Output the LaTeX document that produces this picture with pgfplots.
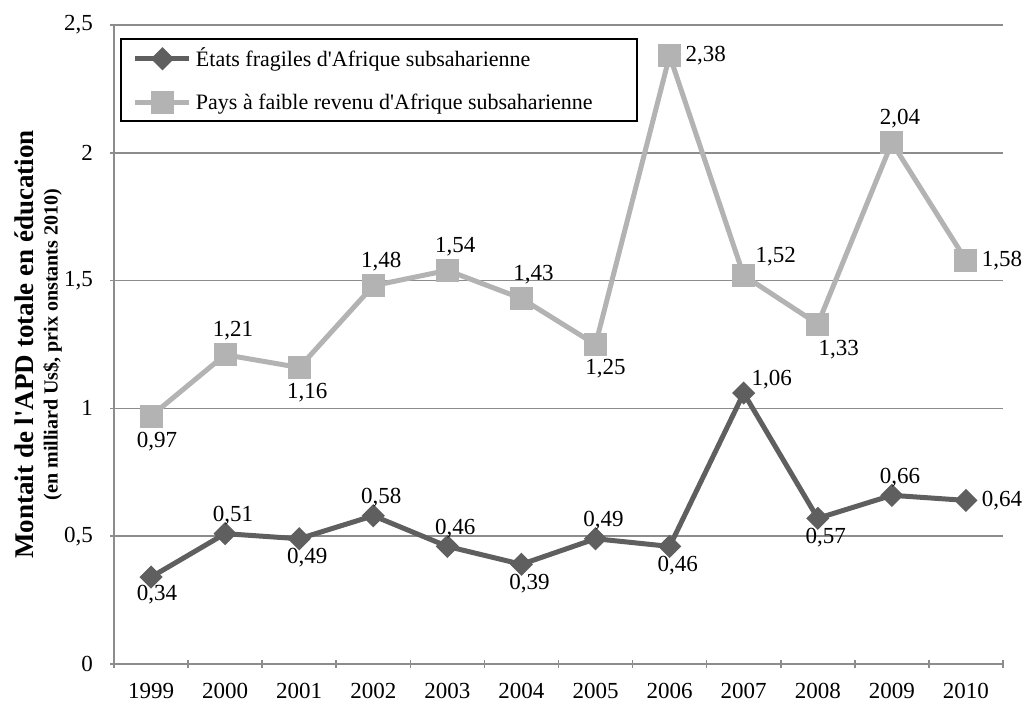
\documentclass[border=0pt]{standalone}
\usepackage{fontspec}
\setmainfont{Liberation Serif}
\usepackage{pgfplots}
\usepackage{pgfplotstable}
\pgfplotsset{compat=1.18}

\definecolor{fragile}{HTML}{5F5F5F}
\definecolor{lowinc}{HTML}{B3B3B3}
\definecolor{gridgray}{HTML}{8C8C8C}
\newcommand\lblfont{\fontsize{11.5}{13.8}\selectfont}
\newcommand\q{\textquotesingle}

% x = index of year (1999 = 0), dx/dy = label offset in pt
\pgfplotstableread{
x y dx dy
0 0.34 3 -9
1 0.51 4 9
2 0.49 4 -9.5
3 0.58 4 9
4 0.46 4 9
5 0.39 4 -9.5
6 0.49 4 9
7 0.46 4 -9.5
8 1.06 14 6.5
9 0.57 4 -9.5
10 0.66 4 9
11 0.64 18 0
}\fragiles

\pgfplotstableread{
x y dx dy
0 0.97 3 -13
1 1.21 4 12
2 1.16 4 -12.5
3 1.48 4 12
4 1.54 4 12
5 1.43 6 12
6 1.25 5 -12
7 2.38 18 0
8 1.52 16 9.5
9 1.33 10.5 -13
10 2.04 4 12
11 1.58 18 0
}\faibles

\begin{document}
\begin{tikzpicture}
\path[use as bounding box] (-57pt,-21.5pt) rectangle (455pt,332pt);
\begin{axis}[
    at={(0,0)}, anchor=south west,
    scale only axis,
    width=444.5pt, height=319.5pt,
    xmin=-0.5, xmax=11.5,
    ymin=0, ymax=2.5,
    xtick={0,...,11},
    xticklabels={1999,2000,2001,2002,2003,2004,2005,2006,2007,2008,2009,2010},
    major x tick style={draw=none},
    minor xtick={-0.5,0.5,...,11.5},
    minor tick length=4pt,
    ytick={0,0.5,...,2.5},
    major tick length=4pt,
    tick align=outside,
    axis x line=bottom, axis y line=left,
    axis line style={gridgray, line width=0.8pt, -},
    tick style={gridgray, line width=0.8pt},
    ymajorgrids,
    grid style={gridgray, line width=0.8pt},
    /pgf/number format/.cd, use comma, 1000 sep={}, assume math mode=true,
    /pgfplots/.cd,
    xticklabel style={font=\lblfont, yshift=-4pt},
    yticklabel style={font=\lblfont, xshift=-5pt},
    ylabel={{\bfseries\fontsize{13.5}{15}\selectfont Montait de l\q APD totale en éducation}\\[0pt]
            {\bfseries\fontsize{10}{11}\selectfont (en milliard Us\$, prix onstants 2010)}},
    ylabel style={align=center, at={(axis description cs:-0.085,0.5)}, anchor=center},
    clip=false,
    legend cell align=left,
    legend style={at={(axis description cs:0.0067,0.98)}, anchor=north west,
        draw=black, line width=1pt, font=\fontsize{11}{13}\selectfont,
        inner xsep=6pt, inner ysep=2.5pt, row sep=8pt},
    legend image code/.code={
        \draw[mark repeat=2,mark phase=2] plot coordinates {(0pt,0pt)(13.5pt,0pt)(27pt,0pt)};},
    nodes near coords={\pgfmathprintnumber[fixed,fixed zerofill,precision=2,use comma,assume math mode=true]{\pgfplotspointmeta}},
    point meta=y,
    visualization depends on={\thisrow{dx} \as \dx},
    visualization depends on={\thisrow{dy} \as \dy},
    every node near coord/.append style={font=\lblfont, text=black, anchor=center,
        xshift=\dx pt, yshift=\dy pt, inner sep=0pt},
]
\addplot[fragile, line width=2.5pt, mark=square*, mark size=2.85pt,
    mark options={rotate=45, solid}] table[x=x, y=y] {\fragiles};
\addlegendentry{États fragiles d\q Afrique subsaharienne}
\addplot[lowinc, line width=2.5pt, mark=square*, mark size=4.5pt,
    mark options={solid}] table[x=x, y=y] {\faibles};
\addlegendentry{Pays à faible revenu d\q Afrique subsaharienne\hspace*{14pt}}
\end{axis}
\end{tikzpicture}
\end{document}
